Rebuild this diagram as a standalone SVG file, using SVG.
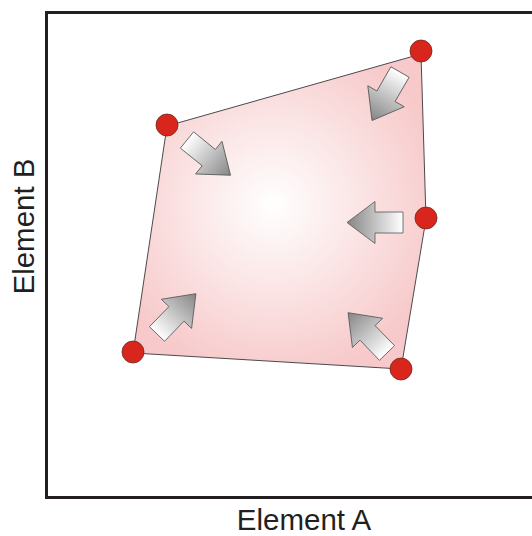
<svg xmlns="http://www.w3.org/2000/svg" width="532" height="536" viewBox="0 0 532 536">
<defs>
<radialGradient id="fill" gradientUnits="userSpaceOnUse" cx="273" cy="205" r="175">
<stop offset="0" stop-color="#ffffff"/>
<stop offset="1" stop-color="#f7c9ca"/>
</radialGradient>
<linearGradient id="ag" gradientUnits="userSpaceOnUse" x1="0" y1="0" x2="56" y2="0">
<stop offset="0" stop-color="#ffffff"/>
<stop offset="1" stop-color="#858585"/>
</linearGradient>
<path id="arrow" d="M0,-10.5 L28,-10.5 L28,-21 L56,0 L28,21 L28,10.5 L0,10.5 Z"/>
</defs>
<style>
.arr{fill:url(#ag);stroke:#555;stroke-width:0.8;stroke-linejoin:miter}
.pt{fill:#d9261c;stroke:#6b2a26;stroke-width:0.8}
.lbl{font-family:"Liberation Sans",Arial,sans-serif;font-size:29.5px;fill:#231f20}
</style>
<rect x="0" y="0" width="532" height="536" fill="#ffffff"/>
<g id="frame"><path d="M540,12.5 L46.5,12.5 L46.5,497.5 L540,497.5" fill="none" stroke="#231f20" stroke-width="3"/></g>
<g id="hull"><polygon points="167,126 421,54 426,219 401,369 133,353" fill="url(#fill)" stroke="#4a4a4a" stroke-width="1"/></g>
<g id="connectors">
<use href="#arrow" class="arr" transform="translate(187,140) rotate(39)"/>
<use href="#arrow" class="arr" transform="translate(400,72) rotate(120)"/>
<use href="#arrow" class="arr" transform="translate(403,222.5) rotate(180)"/>
<use href="#arrow" class="arr" transform="translate(157,334) rotate(-46)"/>
<use href="#arrow" class="arr" transform="translate(387,353) rotate(-134)"/>
</g>
<g id="p1"><circle class="pt" cx="167" cy="125" r="11"/></g>
<g id="p2"><circle class="pt" cx="421" cy="51" r="11"/></g>
<g id="p3"><circle class="pt" cx="426" cy="218" r="11"/></g>
<g id="p4"><circle class="pt" cx="401" cy="369" r="11"/></g>
<g id="p5"><circle class="pt" cx="133" cy="352" r="11"/></g>
<g id="labels">
<text class="lbl" x="304" y="530" text-anchor="middle">Element A</text>
<text class="lbl" transform="translate(34,226.5) rotate(-90)" text-anchor="middle">Element B</text>
</g>
</svg>
